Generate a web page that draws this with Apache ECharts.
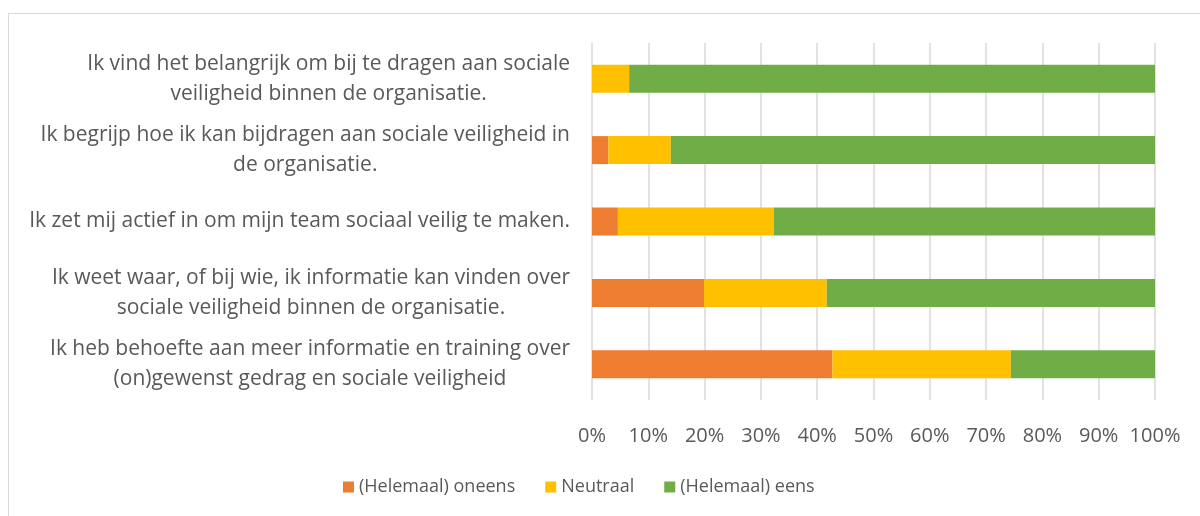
<!DOCTYPE html>
<html>
<head>
<meta charset="utf-8">
<script src="https://cdn.jsdelivr.net/npm/echarts@6/dist/echarts.min.js"></script>
<style>
  html, body { margin: 0; padding: 0; background: #fff; overflow: hidden; }
  #chart { width: 1200px; height: 516px; }
  #frame { position: absolute; left: 8px; top: 13px; width: 1300px; height: 600px;
           border: 1.5px solid #d9d9d9; pointer-events: none; }
</style>
</head>
<body>
<div id="chart"></div>
<div id="frame"></div>
<script>
// stellingen, van boven naar beneden
var categories = [
  'Ik vind het belangrijk om bij te dragen aan sociale\nveiligheid binnen de organisatie.',
  'Ik begrijp hoe ik kan bijdragen aan sociale veiligheid in\nde organisatie.',
  'Ik zet mij actief in om mijn team sociaal veilig te maken.',
  'Ik weet waar, of bij wie, ik informatie kan vinden over\nsociale veiligheid binnen de organisatie.',
  'Ik heb behoefte aan meer informatie en training over\n(on)gewenst gedrag en sociale veiligheid'
];
var seriesNames = ['(Helemaal) oneens', 'Neutraal', '(Helemaal) eens'];
var oneens   = [0, 2.9, 4.6, 19.9, 42.7];
var neutraal = [6.6, 11.1, 27.7, 21.8, 31.7];
var eens     = [93.4, 86.0, 67.7, 58.3, 25.6];
var colors = ['#ED7D31', '#FFC000', '#70AD47'];

var chart = echarts.init(document.getElementById('chart'));
var txt = '#595959';
var font = 'Open Sans';
var catFs = 21;

function bar(name, data, color) {
  return {
    name: name,
    type: 'bar',
    stack: 'totaal',
    barWidth: 28,
    itemStyle: { color: color },
    data: data
  };
}

chart.setOption({
  backgroundColor: '#ffffff',
  animation: false,
  textStyle: { fontFamily: font },
  grid: { left: 592, right: 45, top: 43, bottom: 116 },
  legend: {
    bottom: 15,
    left: 338,
    itemWidth: 11,
    itemHeight: 11,
    itemGap: 30,
    icon: 'rect',
    textStyle: { color: txt, fontSize: 18, fontFamily: font },
    data: seriesNames
  },
  xAxis: {
    type: 'value',
    min: 0,
    max: 100,
    interval: 10,
    axisLine: { show: false },
    axisTick: { show: false },
    splitLine: { lineStyle: { color: '#d9d9d9', width: 1.5 } },
    axisLabel: {
      color: txt, fontSize: 20, margin: 26, fontFamily: font,
      formatter: function (v) { return v + '%'; }
    }
  },
  yAxis: {
    type: 'category',
    inverse: true,
    data: categories,
    axisLine: { show: false },
    axisTick: { show: false },
    axisLabel: {
      margin: 22,
      color: txt,
      fontSize: catFs,
      fontFamily: font,
      lineHeight: 30,
      formatter: function (v) {
        return v.split('\n').map(function (l) { return '{c|' + l + '}'; }).join('\n');
      },
      rich: {
        c: { align: 'center', color: txt, fontSize: catFs, fontFamily: font, lineHeight: 30 }
      }
    }
  },
  series: [
    bar(seriesNames[0], oneens, colors[0]),
    bar(seriesNames[1], neutraal, colors[1]),
    bar(seriesNames[2], eens, colors[2])
  ]
});
</script>
</body>
</html>
